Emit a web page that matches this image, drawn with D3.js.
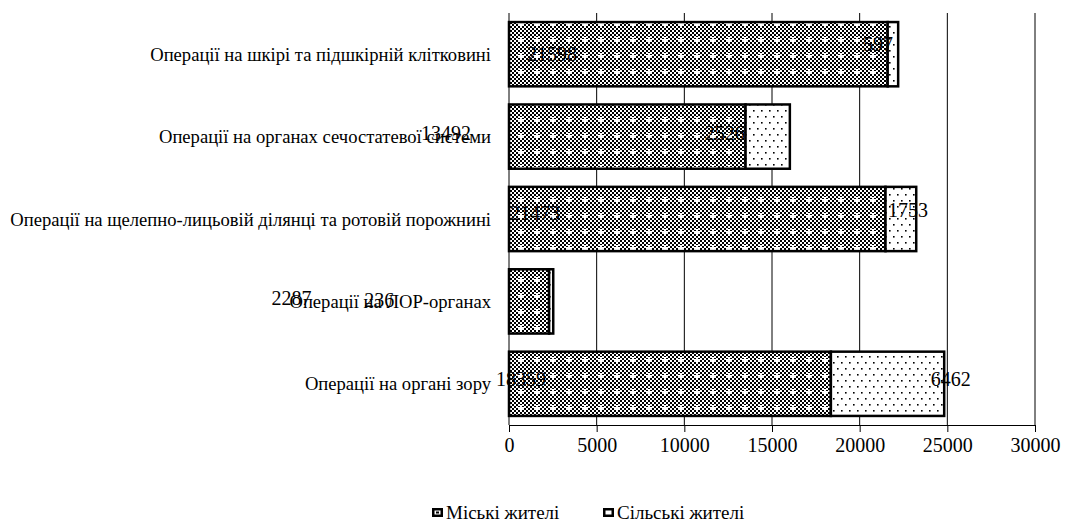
<!DOCTYPE html>
<html><head><meta charset="utf-8">
<script src="https://cdn.jsdelivr.net/npm/d3@7/dist/d3.min.js"></script>
<style>
html,body{margin:0;padding:0;background:#fff;}
svg{display:block;}
</style></head>
<body>
<svg id="chart" width="1065" height="522"></svg>
<script>
// ---- data (top to bottom) ----
const categories = [
  "Операції на шкірі та підшкірній клітковині",
  "Операції на органах сечостатевої системи",
  "Операції на щелепно-лицьовій ділянці та ротовій порожнині",
  "Операції на ЛОР-органах",
  "Операції на органі зору"
];
const urban = [21598, 13492, 21473, 2287, 18359];
const rural = [597, 2526, 1753, 236, 6462];
const seriesNames = ["Міські жителі", "Сільські жителі"];
const xTicks = [0, 5000, 10000, 15000, 20000, 25000, 30000];

// ---- label placement (data units along x, px offsets in y), as in the source chart ----
const urbanLabelAt = [2450, -3590, 1480, -12400, 680];
const ruralLabelAt = [21040, 12310, 22750, -7400, 25200];
const urbanLabelDy = [0, -4, -6, -3, -5];
const ruralLabelDy = [-10, -4, -9, -1, -5];

const FONT = "'Tinos'";

const svg = d3.select("#chart").attr("font-family", FONT);
const plotTop = 13, plotBottom = 425, plotLeft = 509, plotRight = 1035;

const x = d3.scaleLinear().domain([0, 30000]).range([plotLeft, plotRight]);
const y = d3.scaleBand().domain(categories).range([plotTop, plotBottom])
  .paddingInner(0.22).paddingOuter(0.11);

// patterns
const defs = svg.append("defs");
const pU = defs.append("pattern").attr("id","pUrban").attr("patternUnits","userSpaceOnUse")
  .attr("width",16).attr("height",16);
pU.append("rect").attr("width",16).attr("height",16).attr("fill","#fff");
for (let i = 0; i < 8; i++) for (let j = 0; j < 8; j++) {
  if ((i + j) % 2 === 0) pU.append("rect").attr("x",i*2).attr("y",j*2).attr("width",2).attr("height",2).attr("fill","#000");
}
pU.append("rect").attr("x",6).attr("y",7).attr("width",6).attr("height",2).attr("fill","#fff");
pU.append("rect").attr("x",8).attr("y",5).attr("width",2).attr("height",6).attr("fill","#fff");

const pR = defs.append("pattern").attr("id","pRural").attr("patternUnits","userSpaceOnUse")
  .attr("width",8).attr("height",12);
pR.append("rect").attr("width",8).attr("height",12).attr("fill","#fff");
pR.append("rect").attr("x",1).attr("y",2).attr("width",1.6).attr("height",1.6).attr("fill","#000");
pR.append("rect").attr("x",5).attr("y",8).attr("width",1.6).attr("height",1.6).attr("fill","#000");

// gridlines
svg.append("g").selectAll("line").data(xTicks.filter(d => d > 0)).join("line")
  .attr("x1", d => x(d)).attr("x2", d => x(d))
  .attr("y1", plotTop).attr("y2", plotBottom)
  .attr("stroke", "#000").attr("stroke-width", 1);

// left axis line
svg.append("line").attr("x1", plotLeft).attr("x2", plotLeft).attr("y1", plotTop).attr("y2", plotBottom)
  .attr("stroke", "#000").attr("stroke-width", 1);

// bottom axis
const xAxis = d3.axisBottom(x).tickValues(xTicks).tickSize(7).tickPadding(6).tickFormat(d3.format("d"));
const gx = svg.append("g").attr("transform", `translate(0,${plotBottom})`).call(xAxis)
  .attr("font-family", FONT).attr("font-size", 19);
gx.select(".domain").attr("stroke", "#000").attr("stroke-width", 1);
gx.selectAll(".tick line").attr("stroke", "#000");
gx.selectAll(".tick text").attr("fill","#000").style("font-family", FONT).style("font-size", "20px");

// bars
const rows = categories.map((c, i) => ({c, u: urban[i], r: rural[i], i}));
const bars = svg.append("g");
bars.selectAll("rect.u").data(rows).join("rect").attr("class","u")
  .attr("x", x(0)).attr("y", d => y(d.c))
  .attr("width", d => x(d.u) - x(0)).attr("height", y.bandwidth())
  .attr("fill", "url(#pUrban)").attr("stroke", "#000").attr("stroke-width", 2.5);
bars.selectAll("rect.r").data(rows).join("rect").attr("class","r")
  .attr("x", d => x(d.u)).attr("y", d => y(d.c))
  .attr("width", d => x(d.u + d.r) - x(d.u)).attr("height", y.bandwidth())
  .attr("fill", "url(#pRural)").attr("stroke", "#000").attr("stroke-width", 2.5);

// category labels
svg.append("g").selectAll("text").data(categories).join("text")
  .attr("x", 491).attr("y", d => y(d) + y.bandwidth()/2)
  .attr("dy", "0.35em").attr("text-anchor", "end")
  .style("font-family", FONT).style("font-size", "18.6px").attr("fill", "#000")
  .text(d => d);

// value labels
const vl = svg.append("g");
vl.selectAll("text.u").data(rows).join("text").attr("class","u")
  .attr("x", d => x(urbanLabelAt[d.i]))
  .attr("y", d => y(d.c) + y.bandwidth()/2 + urbanLabelDy[d.i])
  .attr("dy", "0.35em").attr("text-anchor", "middle")
  .style("font-family", FONT).style("font-size", "20px").attr("fill", "#000")
  .text(d => d.u);
vl.selectAll("text.r").data(rows).join("text").attr("class","r")
  .attr("x", d => x(ruralLabelAt[d.i]))
  .attr("y", d => y(d.c) + y.bandwidth()/2 + ruralLabelDy[d.i])
  .attr("dy", "0.35em").attr("text-anchor", "middle")
  .style("font-family", FONT).style("font-size", "20px").attr("fill", "#000")
  .text(d => d.r);

// legend
const legend = svg.append("g");
const lx = [432, 603];
seriesNames.forEach((name, k) => {
  const g = legend.append("g").attr("transform", `translate(${lx[k]},508)`);
  g.append("rect").attr("x",0).attr("y",0).attr("width",11).attr("height",9).attr("fill","#000");
  g.append("rect").attr("x",2.5).attr("y",2.5).attr("width",6).attr("height",4).attr("fill","#fff");
  if (k === 0) g.append("rect").attr("x",4).attr("y",3.5).attr("width",3).attr("height",2).attr("fill","#000");
  g.append("text").attr("x", 14).attr("y", 11)
    .style("font-family", FONT).style("font-size", "19px").attr("fill", "#000").text(name);
});
</script>
</body></html>
